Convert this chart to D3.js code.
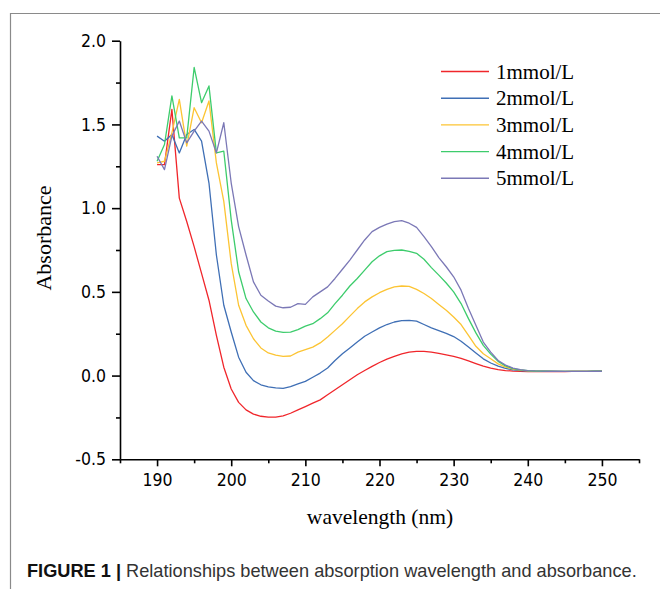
<!DOCTYPE html>
<html>
<head>
<meta charset="utf-8">
<script src="https://cdn.jsdelivr.net/npm/d3@7"></script>
<style>
  body { margin: 0; background: #fff; }
  svg { display: block; }
</style>
</head>
<body>
<div id="chart"></div>
<script>
// wavelength (nm), 190..250 in 1 nm steps
var wavelengths = d3.range(190, 251);

var series_names = ['1mmol/L', '2mmol/L', '3mmol/L', '4mmol/L', '5mmol/L'];
var series_colors = ['#f0262b', '#3f6fb5', '#fcc433', '#3dcc6c', '#7b78b6'];

var abs_1mmol = [
  1.26, 1.26, 1.59, 1.06, 0.92, 0.77, 0.61, 0.45, 0.24, 0.05,
  -0.08, -0.16, -0.205, -0.23, -0.243, -0.248, -0.248, -0.24, -0.225, -0.205,
  -0.185, -0.165, -0.145, -0.115, -0.085, -0.055, -0.025, 0.005, 0.03, 0.055,
  0.078, 0.098, 0.115, 0.13, 0.14, 0.145, 0.144, 0.14, 0.132, 0.124,
  0.115, 0.103, 0.088, 0.072, 0.057, 0.045, 0.036, 0.03, 0.027, 0.025,
  0.024, 0.024, 0.024, 0.024, 0.024, 0.024, 0.025, 0.025, 0.025, 0.025, 0.026
];
var abs_2mmol = [
  1.43, 1.40, 1.44, 1.33, 1.44, 1.47, 1.40, 1.15, 0.72, 0.42,
  0.26, 0.11, 0.02, -0.03, -0.055, -0.068, -0.074, -0.076, -0.066, -0.05,
  -0.035, -0.01, 0.015, 0.045, 0.09, 0.13, 0.165, 0.2, 0.235, 0.26,
  0.285, 0.305, 0.32, 0.328, 0.33, 0.325, 0.305, 0.285, 0.268, 0.252,
  0.233, 0.205, 0.17, 0.135, 0.1, 0.075, 0.056, 0.043, 0.034, 0.03,
  0.027, 0.026, 0.026, 0.025, 0.025, 0.025, 0.025, 0.025, 0.025, 0.026, 0.026
];
var abs_3mmol = [
  1.27, 1.28, 1.45, 1.65, 1.37, 1.60, 1.51, 1.64, 1.27, 1.04,
  0.67, 0.42, 0.30, 0.22, 0.165, 0.135, 0.122, 0.115, 0.117, 0.14,
  0.155, 0.17, 0.195, 0.23, 0.27, 0.31, 0.355, 0.40, 0.44, 0.47,
  0.495, 0.515, 0.53, 0.535, 0.533, 0.515, 0.49, 0.46, 0.425, 0.39,
  0.35, 0.305, 0.24, 0.175, 0.13, 0.10, 0.07, 0.05, 0.038, 0.032,
  0.028, 0.027, 0.026, 0.026, 0.025, 0.025, 0.025, 0.025, 0.025, 0.026, 0.026
];
var abs_4mmol = [
  1.28, 1.38, 1.67, 1.42, 1.42, 1.84, 1.63, 1.73, 1.33, 1.34,
  0.93, 0.62, 0.46, 0.38, 0.32, 0.285, 0.265, 0.258, 0.26, 0.275,
  0.295, 0.31, 0.34, 0.375, 0.43, 0.48, 0.535, 0.58, 0.63, 0.68,
  0.715, 0.74, 0.748, 0.75, 0.742, 0.73, 0.695, 0.645, 0.60, 0.553,
  0.50, 0.43, 0.34, 0.255, 0.18, 0.128, 0.085, 0.058, 0.042, 0.034,
  0.029, 0.027, 0.026, 0.026, 0.025, 0.025, 0.025, 0.025, 0.025, 0.026, 0.026
];
var abs_5mmol = [
  1.31, 1.23, 1.43, 1.52, 1.39, 1.46, 1.52, 1.46, 1.33, 1.51,
  1.15, 0.89, 0.72, 0.56, 0.48, 0.445, 0.415, 0.405, 0.408, 0.43,
  0.425, 0.47, 0.50, 0.53, 0.58, 0.635, 0.69, 0.75, 0.81, 0.86,
  0.885, 0.905, 0.92, 0.925, 0.91, 0.885, 0.83, 0.77, 0.705, 0.65,
  0.59, 0.51, 0.40, 0.30, 0.20, 0.14, 0.09, 0.063, 0.045, 0.036,
  0.03, 0.028, 0.027, 0.026, 0.026, 0.025, 0.025, 0.025, 0.025, 0.026, 0.026
];
var all_series = [abs_1mmol, abs_2mmol, abs_3mmol, abs_4mmol, abs_5mmol];

var x_major = [190, 200, 210, 220, 230, 240, 250];
var x_minor = [185, 195, 205, 215, 225, 235, 245, 255];
var y_major = [-0.5, 0.0, 0.5, 1.0, 1.5, 2.0];
var y_minor = [-0.25, 0.25, 0.75, 1.25, 1.75];

var caption_bold = 'FIGURE 1 |';
var caption_text = ' Relationships between absorption wavelength and absorbance.';

var width = 660, height = 589;
var serif = '"Liberation Serif", "Times New Roman", serif';
var tickFont = '"DejaVu Sans", sans-serif';

var svg = d3.select('#chart').append('svg')
    .attr('width', width)
    .attr('height', height);

// frame around the figure
svg.append('path')
    .attr('d', 'M10.5,' + height + 'V13.5H' + width)
    .attr('fill', 'none')
    .attr('stroke', '#8a8a8a')
    .attr('stroke-width', 1.2);

var x = d3.scaleLinear().domain([185, 255]).range([120, 639]);
var y = d3.scaleLinear().domain([-0.5, 2.0]).range([459.3, 40.7]);

// hyphen minus like the original figure
var yfmt = d => d3.format('.1f')(d).replace('\u2212', '-');

// axes
var xAxis = svg.append('g')
    .attr('transform', 'translate(0,' + y(-0.5) + ')')
    .call(d3.axisBottom(x).tickValues(x_major).tickSize(7).tickSizeOuter(0)
        .tickFormat(d3.format('d')));
svg.append('g')
    .attr('transform', 'translate(0,' + y(-0.5) + ')')
    .call(d3.axisBottom(x).tickValues(x_minor).tickSize(4).tickFormat(''))
    .call(g => g.select('.domain').remove());

var yAxis = svg.append('g')
    .attr('transform', 'translate(' + x(185) + ',0)')
    .call(d3.axisLeft(y).tickValues(y_major).tickSize(8).tickSizeOuter(0)
        .tickFormat(yfmt));
svg.append('g')
    .attr('transform', 'translate(' + x(185) + ',0)')
    .call(d3.axisLeft(y).tickValues(y_minor).tickSize(4).tickFormat(''))
    .call(g => g.select('.domain').remove());

svg.selectAll('.domain, .tick line')
    .attr('stroke', '#000')
    .attr('stroke-width', 1.6);
svg.selectAll('.tick text')
    .attr('font-family', tickFont)
    .attr('font-stretch', 'condensed')
    .attr('font-size', 17.5)
    .attr('fill', '#000');
xAxis.selectAll('.tick text').attr('dy', '0.95em');
yAxis.selectAll('.tick text').attr('x', -14);

// curves
var line = d3.line()
    .x((d, i) => x(wavelengths[i]))
    .y(d => y(d));

svg.append('g')
    .selectAll('path')
    .data(all_series)
    .enter()
    .append('path')
    .attr('d', line)
    .attr('fill', 'none')
    .attr('stroke', (d, i) => series_colors[i])
    .attr('stroke-width', 1.3)
    .attr('stroke-linejoin', 'round');

// legend
var legend = svg.append('g')
    .selectAll('g')
    .data(series_names)
    .enter()
    .append('g')
    .attr('transform', (d, i) => 'translate(441,' + (71.5 + i * 26.7) + ')');
legend.append('line')
    .attr('x1', 0).attr('x2', 48)
    .attr('stroke', (d, i) => series_colors[i])
    .attr('stroke-width', 1.4);
legend.append('text')
    .attr('x', 55)
    .attr('y', 7)
    .attr('font-family', serif)
    .attr('font-size', 21)
    .text(d => d);

// axis titles
svg.append('text')
    .attr('x', 380)
    .attr('y', 524)
    .attr('text-anchor', 'middle')
    .attr('font-family', serif)
    .attr('font-size', 21.5)
    .text('wavelength (nm)');
svg.append('text')
    .attr('transform', 'translate(51,238) rotate(-90)')
    .attr('text-anchor', 'middle')
    .attr('font-family', serif)
    .attr('font-size', 22)
    .text('Absorbance');

// caption
var cap = svg.append('text')
    .attr('x', 27)
    .attr('y', 577)
    .attr('font-family', '"Liberation Sans", Arial, sans-serif')
    .attr('font-size', 18.2)
    .attr('fill', '#333');
cap.append('tspan').attr('font-weight', 'bold').attr('fill', '#111').text(caption_bold);
cap.append('tspan').text(caption_text);
</script>
</body>
</html>
